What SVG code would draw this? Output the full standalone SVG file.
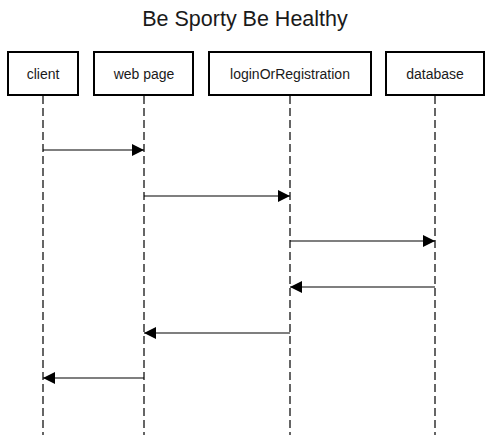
<svg xmlns="http://www.w3.org/2000/svg" width="490" height="435" viewBox="0 0 490 435">
<style>
.box{fill:#fff;stroke:#000;stroke-width:2}
.lbl{font-family:"Liberation Sans",Arial,sans-serif;font-size:14px;fill:#1a1a1a;text-anchor:middle}
.life{stroke:#333;stroke-width:1.5;stroke-dasharray:8 4;fill:none}
.msg{stroke:#000;stroke-width:1.2;fill:none;marker-end:url(#ah)}
</style>
<defs>
<marker id="ah" markerWidth="12" markerHeight="12" refX="12" refY="6" orient="auto" markerUnits="userSpaceOnUse">
<path d="M0,0 L12,6 L0,12 Z" fill="#000"/>
</marker>
</defs>
<rect width="490" height="435" fill="#fff"/>
<text x="245" y="26" font-family="'Liberation Sans',Arial,sans-serif" font-size="21.5" text-anchor="middle" fill="#1a1a1a">Be Sporty Be Healthy</text>
<g id="lifelines">
<line class="life" x1="43" y1="96" x2="43" y2="435"/>
<line class="life" x1="144" y1="96" x2="144" y2="435"/>
<line class="life" x1="290" y1="96" x2="290" y2="435"/>
<line class="life" x1="435" y1="96" x2="435" y2="435"/>
</g>
<g id="client"><rect class="box" x="8" y="52" width="70" height="43"/><text class="lbl" x="43" y="79">client</text></g>
<g id="webpage"><rect class="box" x="94" y="52" width="99" height="43"/><text class="lbl" x="144" y="79">web page</text></g>
<g id="loginOrRegistration"><rect class="box" x="209" y="52" width="162" height="43"/><text class="lbl" x="290" y="79">loginOrRegistration</text></g>
<g id="database"><rect class="box" x="386" y="52" width="98" height="43"/><text class="lbl" x="435" y="79">database</text></g>
<g id="connectors">
<line class="msg" x1="43" y1="150" x2="144" y2="150"/>
<line class="msg" x1="144" y1="196" x2="290" y2="196"/>
<line class="msg" x1="290" y1="241" x2="435" y2="241"/>
<line class="msg" x1="435" y1="287" x2="290" y2="287"/>
<line class="msg" x1="290" y1="333" x2="144" y2="333"/>
<line class="msg" x1="144" y1="378" x2="43" y2="378"/>
</g>
</svg>
